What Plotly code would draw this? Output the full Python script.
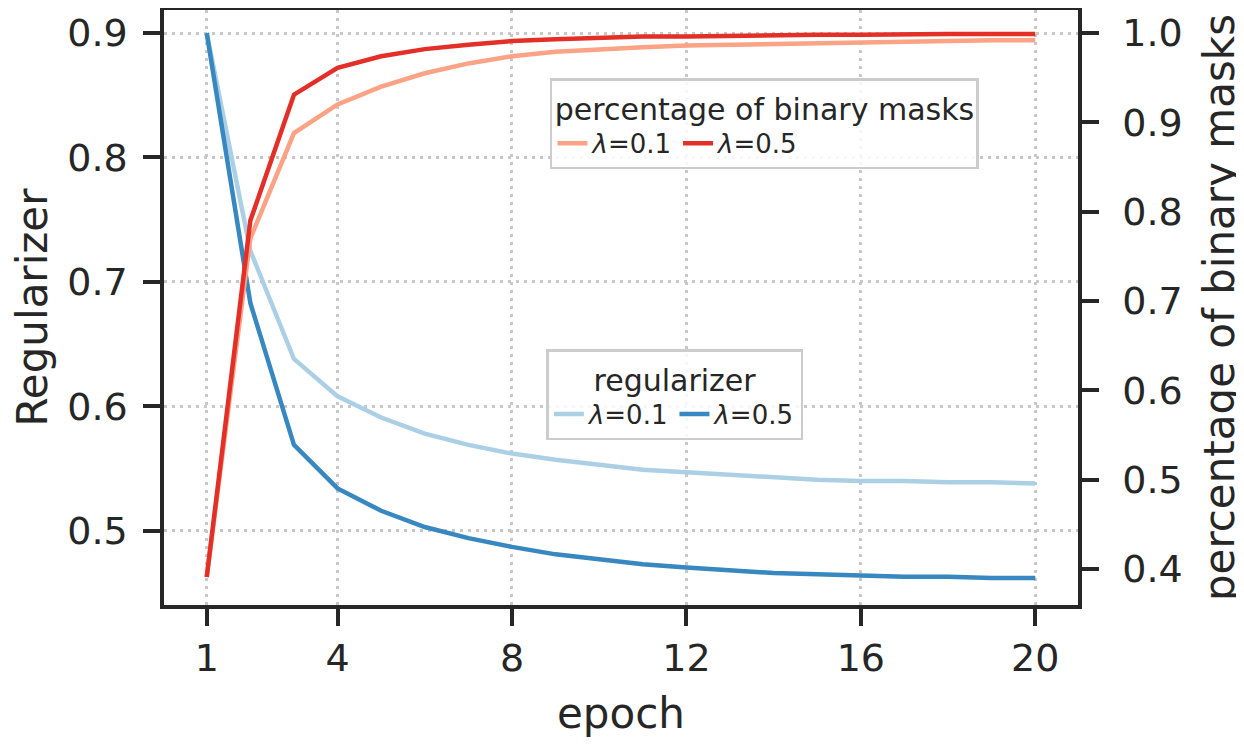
import plotly.graph_objects as go

# epochs on the x axis
epochs = list(range(1, 21))

# regularizer value per epoch (left axis)
reg_lambda_01 = [0.900, 0.725, 0.638, 0.608, 0.591, 0.578, 0.569, 0.562, 0.557, 0.553,
                 0.549, 0.547, 0.545, 0.543, 0.541, 0.540, 0.540, 0.539, 0.539, 0.538]
reg_lambda_05 = [0.900, 0.683, 0.569, 0.534, 0.516, 0.503, 0.494, 0.487, 0.481, 0.477,
                 0.473, 0.4705, 0.468, 0.466, 0.465, 0.464, 0.463, 0.463, 0.462, 0.462]

# percentage of binary masks per epoch (right axis)
pct_lambda_01 = [0.391, 0.770, 0.888, 0.920, 0.940, 0.955, 0.966, 0.974, 0.979, 0.982,
                 0.984, 0.986, 0.987, 0.988, 0.989, 0.990, 0.991, 0.991, 0.992, 0.992]
pct_lambda_05 = [0.391, 0.790, 0.931, 0.961, 0.974, 0.982, 0.987, 0.991, 0.993, 0.995,
                 0.996, 0.996, 0.997, 0.998, 0.998, 0.998, 0.999, 0.999, 0.999, 0.999]

x_ticks = [1, 4, 8, 12, 16, 20]
left_ticks = [0.5, 0.6, 0.7, 0.8, 0.9]
right_ticks = [0.4, 0.5, 0.6, 0.7, 0.8, 0.9, 1.0]

ink = "#262626"
font = "DejaVu Sans"

fig = go.Figure()

# regularizer curves, in the "regularizer" legend
fig.add_trace(go.Scatter(x=epochs, y=reg_lambda_01, mode="lines", name="<i>λ</i>=0.1",
                         line=dict(color="#abd0e6", width=4.5), yaxis="y", legend="legend2"))
fig.add_trace(go.Scatter(x=epochs, y=reg_lambda_05, mode="lines", name="<i>λ</i>=0.5",
                         line=dict(color="#3787c0", width=4.5), yaxis="y", legend="legend2"))

# binary mask curves, in the "percentage of binary masks" legend
fig.add_trace(go.Scatter(x=epochs, y=pct_lambda_01, mode="lines", name="<i>λ</i>=0.1",
                         line=dict(color="#fca285", width=4.5), yaxis="y2", legend="legend"))
fig.add_trace(go.Scatter(x=epochs, y=pct_lambda_05, mode="lines", name="<i>λ</i>=0.5",
                         line=dict(color="#e32f27", width=4.5), yaxis="y2", legend="legend"))

axis_common = dict(
    showline=True, linecolor=ink, linewidth=3.5,
    ticks="outside", ticklen=17, tickwidth=3.5, tickcolor=ink,
    tickfont=dict(family=font, size=38, color=ink),
    zeroline=False, automargin=False,
)

grid_style = dict(showgrid=True, gridcolor="#c8c8c8", gridwidth=2.5, griddash="3px,5px")

legend_common = dict(
    orientation="h",
    xanchor="center", yanchor="top",
    bgcolor="rgba(255,255,255,0.85)",
    bordercolor="#cccccc", borderwidth=2.5,
    font=dict(family=font, size=26, color=ink),
    itemwidth=30,
)

fig.update_layout(
    width=1244, height=745,
    margin=dict(l=156, r=174, t=2, b=148),
    paper_bgcolor="white", plot_bgcolor="white",
    xaxis=dict(
        range=[0.02, 20.98], tickvals=x_ticks, mirror=True, ticklabelstandoff=0,
        title=dict(text="epoch", font=dict(family=font, size=42, color=ink), standoff=20),
        **grid_style, **axis_common,
    ),
    yaxis=dict(
        range=[0.4403, 0.9185], tickvals=left_ticks, tickformat=".1f", ticklabelstandoff=8,
        title=dict(text="Regularizer", font=dict(family=font, size=42, color=ink), standoff=36),
        **grid_style, **axis_common,
    ),
    yaxis2=dict(
        range=[0.3596, 1.0258], tickvals=right_ticks, tickformat=".1f", ticklabelstandoff=16,
        overlaying="y", side="right", showgrid=False,
        title=dict(text="percentage of binary masks", font=dict(family=font, size=42, color=ink),
                   standoff=24),
        **axis_common,
    ),
    legend=dict(
        x=0.657, y=0.885,
        title=dict(text="percentage of binary masks", side="top center",
                   font=dict(family=font, size=30, color=ink)),
        **legend_common,
    ),
    legend2=dict(
        x=0.559, y=0.43,
        title=dict(text="regularizer", side="top center",
                   font=dict(family=font, size=30, color=ink)),
        **legend_common,
    ),
)

fig.write_html("out.html")
